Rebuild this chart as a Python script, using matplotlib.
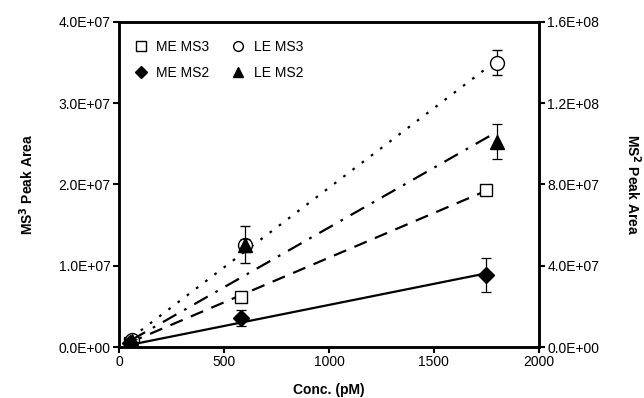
import numpy as np
import matplotlib
matplotlib.use("Agg")
import matplotlib.pyplot as plt
from matplotlib.ticker import FuncFormatter
from matplotlib.lines import Line2D

# Data (concentration in pM)
me_x = [50, 580, 1750]
le_x = [60, 600, 1800]

me_ms3 = [0.5e6, 6.2e6, 1.93e7]
me_ms3_err = [0.2e6, 0.4e6, 0.4e6]
le_ms3 = [0.9e6, 1.26e7, 3.5e7]
le_ms3_err = [0.3e6, 2.3e6, 1.5e6]

me_ms2 = [2.0e6, 1.43e7, 3.55e7]
me_ms2_err = [1.0e6, 3.7e6, 8.4e6]
le_ms2 = [3.0e6, 5.0e7, 1.01e8]
le_ms2_err = [1.0e6, 3.0e6, 8.6e6]

left_ticks = [0, 1e7, 2e7, 3e7, 4e7]
right_ticks = [0, 4e7, 8e7, 1.2e8, 1.6e8]
x_ticks = [0, 500, 1000, 1500, 2000]

plt.rcParams['font.family'] = ['Liberation Sans', 'DejaVu Sans']

fig = plt.figure(figsize=(6.44, 3.98), dpi=100)
ax = fig.add_axes([0.1848, 0.128, 0.652, 0.817])
ax2 = ax.twinx()

def sci(v, pos):
    if v == 0:
        return "0.0E+00"
    e = int(np.floor(np.log10(abs(v))))
    m = v / 10**e
    return f"{m:.1f}E+{e:02d}"

def trend(axis, x, y, ls, dashes=None):
    # linear trendline forced through the origin
    x = np.asarray(x, float)
    y = np.asarray(y, float)
    slope = np.sum(x * y) / np.sum(x * x)
    xs = np.array([x.min(), x.max()])
    line, = axis.plot(xs, slope * xs, color='black', lw=1.6, linestyle=ls, zorder=2)
    if dashes is not None:
        line.set_dashes(dashes)

trend(ax, me_x, me_ms3, '--', (6, 4))
trend(ax, le_x, le_ms3, ':', (1.2, 4))
trend(ax2, me_x, me_ms2, '-')
trend(ax2, le_x, le_ms2, '-.', (7, 4, 1.2, 4))

ekw = dict(ecolor='black', elinewidth=0.9, capsize=3.5, capthick=0.9, linestyle='none', zorder=3)
ax.errorbar(me_x, me_ms3, yerr=me_ms3_err, marker='s', ms=8.5, mfc='white', mec='black', mew=1.0, **ekw)
ax.errorbar(le_x, le_ms3, yerr=le_ms3_err, marker='o', ms=10, mfc='white', mec='black', mew=1.0, **ekw)
ax2.errorbar(me_x, me_ms2, yerr=me_ms2_err, marker='D', ms=8, mfc='black', mec='black', **ekw)
ax2.errorbar(le_x, le_ms2, yerr=le_ms2_err, marker='^', ms=9.5, mfc='black', mec='black', **ekw)

ax.set_xlim(0, 2000)
ax.set_ylim(0, 4e7)
ax2.set_ylim(0, 1.6e8)
ax.set_xticks(x_ticks)
ax.set_yticks(left_ticks)
ax2.set_yticks(right_ticks)
ax.yaxis.set_major_formatter(FuncFormatter(sci))
ax2.yaxis.set_major_formatter(FuncFormatter(sci))

for a in (ax, ax2):
    for s in a.spines.values():
        s.set_linewidth(1.8)
    a.tick_params(direction='out', length=4, width=1.5, labelsize=10, pad=2)

ax.set_xlabel("Conc. (pM)", fontsize=10, fontweight='bold', labelpad=10)
ax.set_ylabel("MS$^\\mathbf{3}$ Peak Area", fontsize=10, fontweight='bold', labelpad=16)
ax2.set_ylabel("MS$^\\mathbf{2}$ Peak Area", fontsize=10, fontweight='bold', rotation=-90, labelpad=31)

handles = [
    Line2D([], [], marker='s', ms=7, mfc='white', mec='black', ls='none'),
    Line2D([], [], marker='D', ms=6, mfc='black', mec='black', ls='none'),
    Line2D([], [], marker='o', ms=7, mfc='white', mec='black', ls='none'),
    Line2D([], [], marker='^', ms=7, mfc='black', mec='black', ls='none'),
]
labels = ["ME MS3", "ME MS2", "LE MS3", "LE MS2"]
ax.legend(handles, labels, ncol=2, loc='upper left', frameon=False, fontsize=10,
          handlelength=0.8, handletextpad=0.7, columnspacing=1.7, labelspacing=0.85,
          borderaxespad=0.3, bbox_to_anchor=(0.015, 0.975))

fig.savefig("out.png", dpi=100)
